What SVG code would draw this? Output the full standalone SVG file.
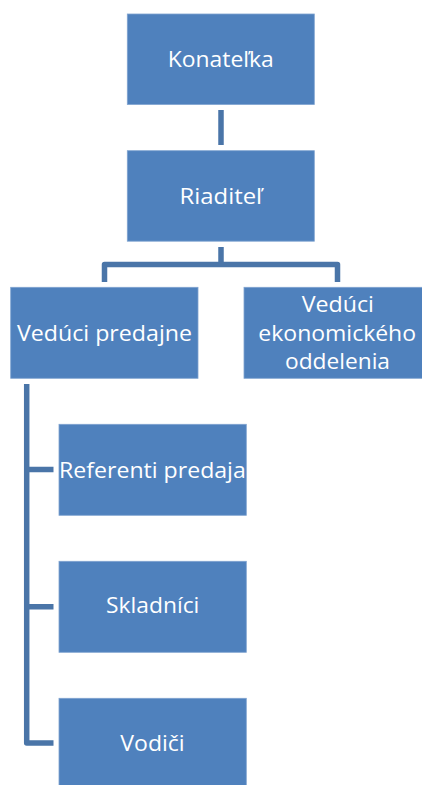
<svg xmlns="http://www.w3.org/2000/svg" width="422" height="785" viewBox="0 0 422 785">
<style>
.box{fill:#4F81BD;stroke:#7FA3D0;stroke-width:0.8}
.lbl{font-family:"Open Sans","Liberation Sans",sans-serif;font-size:22.5px;fill:#FFFFFF;text-anchor:middle}
.con{fill:none;stroke:#4A75A8;stroke-width:5.5;stroke-linejoin:round}
</style>
<rect width="422" height="785" fill="#FFFFFF"/>
<g id="connectors">
<path class="con" d="M221 110 V145"/>
<path class="con" d="M221 247 V264.5 M104.5 282 V264.5 H337.5 V282"/>
<path class="con" d="M26.7 384 V743 H53.5 M26.7 469.5 H53.5 M26.7 606.7 H53.5"/>
</g>
<g id="konatelka">
<rect class="box" x="127.3" y="14" width="187" height="90.5"/>
<text class="lbl" x="220.8" y="66.5" textLength="106" lengthAdjust="spacingAndGlyphs">Konateľka</text>
</g>
<g id="riaditel">
<rect class="box" x="127.3" y="150.7" width="187" height="90.5"/>
<text class="lbl" x="220.8" y="204" textLength="82.6" lengthAdjust="spacingAndGlyphs">Riaditeľ</text>
</g>
<g id="veduci-predajne">
<rect class="box" x="10.7" y="287.3" width="187.3" height="91"/>
<text class="lbl" x="104.5" y="341" textLength="175" lengthAdjust="spacingAndGlyphs">Vedúci predajne</text>
</g>
<g id="veduci-ekonomickeho">
<rect class="box" x="244" y="287.3" width="187" height="91"/>
<text class="lbl" x="337.8" y="311.7" textLength="72.3" lengthAdjust="spacingAndGlyphs">Vedúci</text>
<text class="lbl" x="337.2" y="341" textLength="157.7" lengthAdjust="spacingAndGlyphs">ekonomického</text>
<text class="lbl" x="337.5" y="369.3" textLength="105" lengthAdjust="spacingAndGlyphs">oddelenia</text>
</g>
<g id="referenti-predaja">
<rect class="box" x="59" y="424.3" width="187.3" height="91"/>
<text class="lbl" x="152.4" y="478.3" textLength="186.7" lengthAdjust="spacingAndGlyphs">Referenti predaja</text>
</g>
<g id="skladnici">
<rect class="box" x="59" y="561.3" width="187.3" height="91"/>
<text class="lbl" x="152.7" y="613.3" textLength="93.3" lengthAdjust="spacingAndGlyphs">Skladníci</text>
</g>
<g id="vodici">
<rect class="box" x="59" y="698.3" width="187.3" height="91"/>
<text class="lbl" x="152.5" y="750.7" textLength="64.3" lengthAdjust="spacingAndGlyphs">Vodiči</text>
</g>
</svg>
